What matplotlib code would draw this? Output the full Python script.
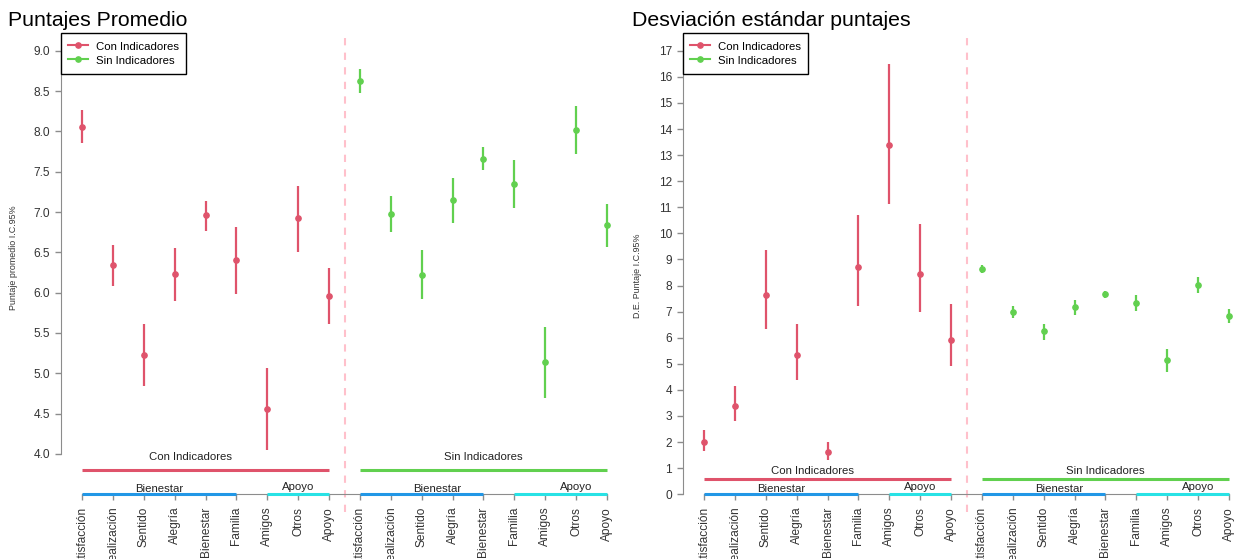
import matplotlib
matplotlib.use('Agg')
import matplotlib.pyplot as plt
from matplotlib.lines import Line2D

plt.rcParams['font.family'] = ['Liberation Sans', 'DejaVu Sans']

# ---------------- data ----------------
categories = ["Satisfacción", "Realización", "Sentido", "Alegría", "Bienestar",
              "Familia", "Amigos", "Otros", "Apoyo"]
series_names = ["Con Indicadores", "Sin Indicadores"]

# Panel 1: Puntajes promedio (mean, lower CI, upper CI)
prom_con_mean = [8.06, 6.34, 5.23, 6.23, 6.96, 6.40, 4.56, 6.92, 5.96]
prom_con_lo   = [7.86, 6.08, 4.84, 5.90, 6.77, 5.98, 4.05, 6.50, 5.61]
prom_con_hi   = [8.26, 6.59, 5.61, 6.55, 7.14, 6.81, 5.07, 7.32, 6.30]
prom_sin_mean = [8.62, 6.98, 6.22, 7.15, 7.66, 7.35, 5.14, 8.02, 6.84]
prom_sin_lo   = [8.48, 6.75, 5.92, 6.87, 7.52, 7.05, 4.69, 7.72, 6.57]
prom_sin_hi   = [8.77, 7.20, 6.53, 7.42, 7.81, 7.64, 5.58, 8.32, 7.10]

# Panel 2: Desviación estándar
de_con_mean = [2.02, 3.38, 7.65, 5.32, 1.61, 8.70, 13.39, 8.43, 5.93]
de_con_lo   = [1.65, 2.80, 6.33, 4.37, 1.32, 7.23, 11.12, 6.98, 4.92]
de_con_hi   = [2.47, 4.16, 9.38, 6.52, 2.00, 10.72, 16.49, 10.36, 7.29]
de_sin_mean = [8.62, 6.99, 6.24, 7.16, 7.67, 7.34, 5.15, 8.03, 6.83]
de_sin_lo   = [8.47, 6.74, 5.93, 6.88, 7.52, 7.03, 4.68, 7.71, 6.56]
de_sin_hi   = [8.79, 7.21, 6.53, 7.43, 7.80, 7.65, 5.58, 8.34, 7.11]

subgroups = ["Bienestar", "Apoyo"]

prom_yticks = [4.0, 4.5, 5.0, 5.5, 6.0, 6.5, 7.0, 7.5, 8.0, 8.5, 9.0]
de_yticks = list(range(0, 18))

# ---------------- style ----------------
C_CON = "#DF536B"
C_SIN = "#61D04F"
C_BIEN = "#2297E6"
C_APOYO = "#28E2E5"
C_AXIS = "#8c8c8c"
C_TXT = "#333333"

W, H = 1244, 559
fig = plt.figure(figsize=(W / 100, H / 100), dpi=100)

n = len(categories)
x_con = list(range(1, n + 1))
x_sin = list(range(n + 1, 2 * n + 1))


def panel(ax, cm, cl, ch, sm, sl, sh, yticks, ylim, base, fmt,
          gline_y, gtext_y, sub_y_b, sub_y_a, ylabel, ylab_x, ylab_y):
    ax.set_xlim(0.32, 2 * n + 0.68)
    ax.set_ylim(*ylim)
    for s in ["top", "right"]:
        ax.spines[s].set_visible(False)
    ax.spines["left"].set_bounds(yticks[0], yticks[-1])
    ax.spines["left"].set_color(C_AXIS)
    ax.spines["bottom"].set_position(("data", base))
    ax.spines["bottom"].set_bounds(1, 2 * n)
    ax.spines["bottom"].set_color(C_AXIS)
    ax.set_yticks(yticks)
    ax.set_yticklabels([fmt.format(v) for v in yticks])
    ax.set_xticks(x_con + x_sin)
    ax.set_xticklabels(categories + categories, rotation=90)
    ax.tick_params(axis="both", colors=C_AXIS, labelcolor=C_TXT,
                   labelsize=8.6, length=4.5, width=1)
    ax.tick_params(axis="y", pad=3.5)
    ax.tick_params(axis="x", pad=4.5)

    # separator
    ax.axvline(n + 0.5, color="#FFC0CB", lw=1.5, ls=(0, (3.5, 3.5)))

    # error bars and points
    ax.vlines(x_con, cl, ch, color=C_CON, lw=1.6, zorder=3)
    ax.plot(x_con, cm, "o", color=C_CON, ms=3.8, zorder=4)
    ax.vlines(x_sin, sl, sh, color=C_SIN, lw=1.6, zorder=3)
    ax.plot(x_sin, sm, "o", color=C_SIN, ms=3.8, zorder=4)

    # group lines
    ax.plot([x_con[0], x_con[-1]], [gline_y] * 2, color=C_CON, lw=2.2,
            clip_on=False, solid_capstyle="butt")
    ax.plot([x_sin[0], x_sin[-1]], [gline_y] * 2, color=C_SIN, lw=2.2,
            clip_on=False, solid_capstyle="butt")
    ax.text(4.5, gtext_y, series_names[0], ha="center", va="baseline",
            fontsize=8.2, color="#222222")
    ax.text(n + 5, gtext_y, series_names[1], ha="center", va="baseline",
            fontsize=8.2, color="#222222")

    # sub-group segments on the axis
    segs = [(1, 6, C_BIEN), (7, 9, C_APOYO), (10, 14, C_BIEN), (15, 18, C_APOYO)]
    for a, b, c in segs:
        ax.plot([a, b], [base, base], color=c, lw=2.2, clip_on=False,
                solid_capstyle="butt", zorder=5)
    for xp, yp, lab in [(3.5, sub_y_b, subgroups[0]), (8, sub_y_a, subgroups[1]),
                        (12.5, sub_y_b, subgroups[0]), (17, sub_y_a, subgroups[1])]:
        ax.text(xp, yp, lab, ha="center", va="baseline", fontsize=8.2,
                color="#222222")

    handles = [Line2D([], [], color=C_CON, marker="o", ms=3.8, lw=1.5),
               Line2D([], [], color=C_SIN, marker="o", ms=3.8, lw=1.5)]
    leg = ax.legend(handles, series_names, loc="upper left",
                    bbox_to_anchor=(0, 1), borderaxespad=0, fontsize=8.2,
                    frameon=True, fancybox=False, edgecolor="black",
                    framealpha=1, handlelength=1.7, handletextpad=0.7,
                    borderpad=0.65, labelspacing=0.1, handleheight=1.3)
    leg.get_frame().set_linewidth(1.0)

    fig.text(ylab_x / W, 1 - ylab_y / H, ylabel, rotation=90, ha="center",
             va="center", fontsize=6.4, color=C_TXT)


ax1 = fig.add_axes([61 / W, 47 / H, 567 / W, 479 / H])
panel(ax1, prom_con_mean, prom_con_lo, prom_con_hi,
      prom_sin_mean, prom_sin_lo, prom_sin_hi,
      prom_yticks, (3.28, 9.22), 3.5, "{:.1f}",
      3.80, 3.93, 3.53, 3.55, "Puntaje promedio I.C.95%", 14, 258)

ax2 = fig.add_axes([683 / W, 47 / H, 567 / W, 479 / H])
panel(ax2, de_con_mean, de_con_lo, de_con_hi,
      de_sin_mean, de_sin_lo, de_sin_hi,
      de_yticks, (-0.68, 17.68), 0, "{:d}",
      0.60, 0.78, 0.09, 0.15, "D.E. Puntaje I.C.95%", 638, 276)

fig.text(8 / W, 1 - 26 / H, "Puntajes Promedio", fontsize=15.3, va="baseline", ha="left")
fig.text(632 / W, 1 - 26 / H, "Desviación estándar puntajes", fontsize=15.3,
         va="baseline", ha="left")

fig.savefig("out.png", dpi=100)
